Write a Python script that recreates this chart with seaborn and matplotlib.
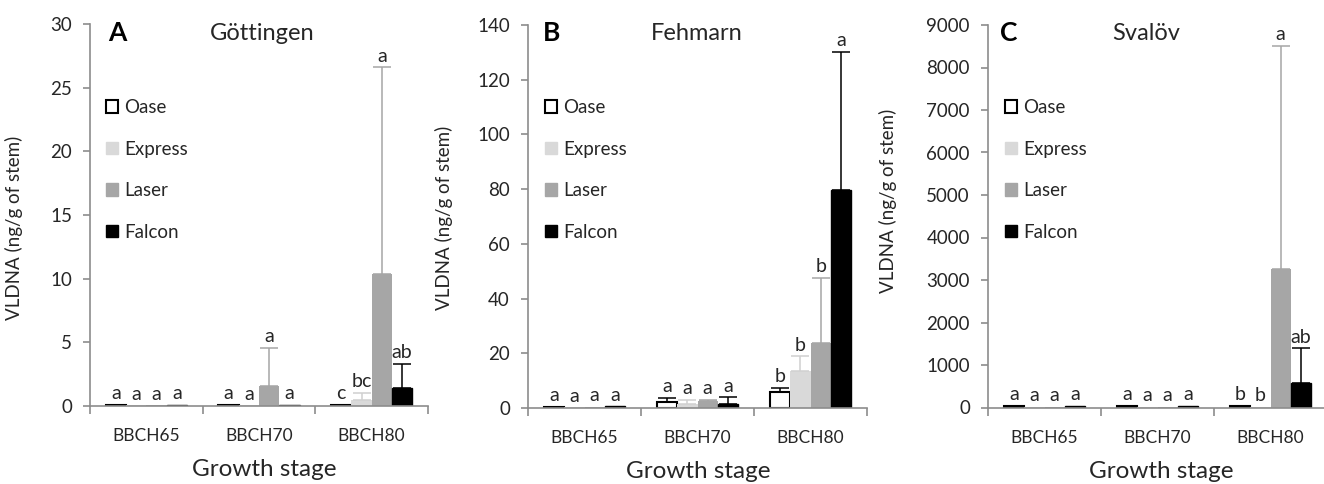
import matplotlib
matplotlib.use("Agg")
import matplotlib.pyplot as plt
from matplotlib.patches import Patch
import numpy as np
import pandas as pd
import seaborn as sns

# ---- data -------------------------------------------------------------
stages = ["BBCH65", "BBCH70", "BBCH80"]
cultivars = ["Oase", "Express", "Laser", "Falcon"]

# Göttingen: means per cultivar (rows) and growth stage (columns)
gott_means = [[0.1, 0.1, 0.1],
              [0.05, 0.05, 0.5],
              [0.05, 1.6, 10.4],
              [0.1, 0.1, 1.45]]
gott_errs = [[0, 0, 0],
             [0, 0, 0.5],
             [0, 2.95, 16.2],
             [0, 0, 1.85]]
gott_letters = [["a", "a", "c"],
                ["a", "a", "bc"],
                ["a", "a", "a"],
                ["a", "a", "ab"]]

# Fehmarn
fehm_means = [[0.5, 2.2, 5.8],
              [0.2, 1.5, 13.4],
              [0.4, 2.6, 23.8],
              [0.6, 1.5, 79.8]]
fehm_errs = [[0, 1.4, 1.5],
             [0, 1.5, 5.5],
             [0, 0.4, 23.7],
             [0, 2.4, 50.5]]
fehm_letters = [["a", "a", "b"],
                ["a", "a", "b"],
                ["a", "a", "b"],
                ["a", "a", "a"]]

# Svalöv
sval_means = [[30, 30, 30],
              [10, 10, 10],
              [10, 10, 3250],
              [30, 30, 565]]
sval_errs = [[0, 0, 0],
             [0, 0, 0],
             [0, 0, 5262],
             [0, 0, 824]]
sval_letters = [["a", "a", "b"],
                ["a", "a", "b"],
                ["a", "a", "a"],
                ["a", "a", "ab"]]

panel_tags = ["A", "B", "C"]
sites = ["Göttingen", "Fehmarn", "Svalöv"]
y_limits = [30, 140, 9000]
y_steps = [5, 20, 1000]

# ---- style ------------------------------------------------------------
sns.set_style("ticks")
plt.rcParams["font.family"] = ["Lato", "DejaVu Sans"]

bar_colors = ["#ffffff", "#d9d9d9", "#a6a6a6", "#000000"]
err_colors = ["#000000", "#d0d0d0", "#a6a6a6", "#000000"]
spine_col = "#8c8c8c"
text_col = "#262626"

fig = plt.figure(figsize=(13.24, 4.84), dpi=100)
W, H = 1324.0, 484.0
# left, right, bottom (pixel row of y=0), top (pixel row of y max)
frames = [(90, 428, 406, 24), (528, 867, 408, 25), (988, 1327, 407.5, 25)]
ylabel_pos = [(23, 228), (453, 218), (897, 201)]
xlabel_x = [264, 698, 1161]
tag_x = [117, 552, 1009]
title_x = [262, 697, 1146]
legend_x = [106, 545, 1005]

all_means = [gott_means, fehm_means, sval_means]
all_errs = [gott_errs, fehm_errs, sval_errs]
all_letters = [gott_letters, fehm_letters, sval_letters]

for k in range(3):
    l, r, b, t = frames[k]
    ax = fig.add_axes([l / W, 1 - b / H, (r - l) / W, (b - t) / H])

    df = pd.DataFrame({
        "stage": np.repeat([stages], 4, axis=0).ravel(),
        "cultivar": np.repeat(cultivars, 3),
        "value": np.ravel(all_means[k]),
    })
    sns.barplot(data=df, x="stage", y="value", hue="cultivar",
                order=stages, hue_order=cultivars,
                palette=bar_colors, saturation=1, width=0.72, gap=0,
                errorbar=None, legend=False, ax=ax, linewidth=0)
    bar_groups = list(ax.containers)

    ax.set_xlim(-0.5, 2.5)
    ax.set_ylim(0, y_limits[k])
    ax.set_yticks(np.arange(0, y_limits[k] + 1, y_steps[k]))

    # outlined bars for Oase
    for bar in bar_groups[0]:
        bar.set_facecolor("white")
        bar.set_edgecolor("black")
        bar.set_linewidth(1.5)
    # tiny black bars get a matching outline so they stay visible
    for bar in bar_groups[3]:
        bar.set_edgecolor("black")
        bar.set_linewidth(1.0)

    # upper error bars and significance letters
    for i, cont in enumerate(bar_groups):
        for j, bar in enumerate(cont):
            x = bar.get_x() + bar.get_width() / 2
            y = all_means[k][i][j]
            e = all_errs[k][i][j]
            if e > 0:
                ax.errorbar(x, y, yerr=[[0], [e]], fmt="none",
                            ecolor=err_colors[i], elinewidth=1.1,
                            capsize=6.5, capthick=1.1, zorder=3)
            ax.annotate(all_letters[k][i][j], (x, y + e),
                        xytext=(0, 2), textcoords="offset points",
                        ha="center", va="bottom", fontsize=14,
                        color=text_col)

    # axes styling
    sns.despine(ax=ax)
    for s in ("left", "bottom"):
        ax.spines[s].set_color(spine_col)
        ax.spines[s].set_linewidth(1.2)
    ax.tick_params(axis="y", colors=spine_col, labelcolor=text_col,
                   labelsize=13.5, length=5, width=1.2, pad=8)
    ax.tick_params(axis="x", which="major", length=0, pad=16,
                   labelsize=12.5, labelcolor=text_col)
    ax.set_xticks([-0.5, 0.5, 1.5, 2.5], minor=True)
    ax.tick_params(axis="x", which="minor", length=6, width=1.2,
                   color=spine_col)

    ax.set_xlabel("Growth stage", fontsize=17.5, color=text_col,
                  labelpad=11)
    ax.xaxis.label.set_x((xlabel_x[k] - l) / (r - l))
    ax.set_ylabel("VLDNA (ng/g of stem)", fontsize=13.5, color=text_col)
    yx, yy = ylabel_pos[k]
    ax.yaxis.set_label_coords((yx - l) / (r - l), (b - yy) / (b - t))

    ax.text((tag_x[k] - l) / (r - l), (b - 33) / (b - t), panel_tags[k],
            transform=ax.transAxes, ha="center", va="center",
            fontsize=19, fontweight="bold", color="black")
    ax.text((title_x[k] - l) / (r - l), (b - 34) / (b - t), sites[k],
            transform=ax.transAxes, ha="center", va="center",
            fontsize=17, color=text_col)

    handles = [Patch(facecolor=c, edgecolor=("black" if n == 0 else c),
                     linewidth=(1.5 if n == 0 else 1.0))
               for n, c in enumerate(bar_colors)]
    ax.legend(handles, cultivars, loc="upper left",
              bbox_to_anchor=((legend_x[k] - l) / (r - l), (b - 99) / (b - t)),
              frameon=False, fontsize=13.5, handlelength=0.65,
              handleheight=0.65, handletextpad=0.3, labelspacing=1.31,
              borderaxespad=0, borderpad=0, labelcolor=text_col)

fig.savefig("out.png", dpi=100)
